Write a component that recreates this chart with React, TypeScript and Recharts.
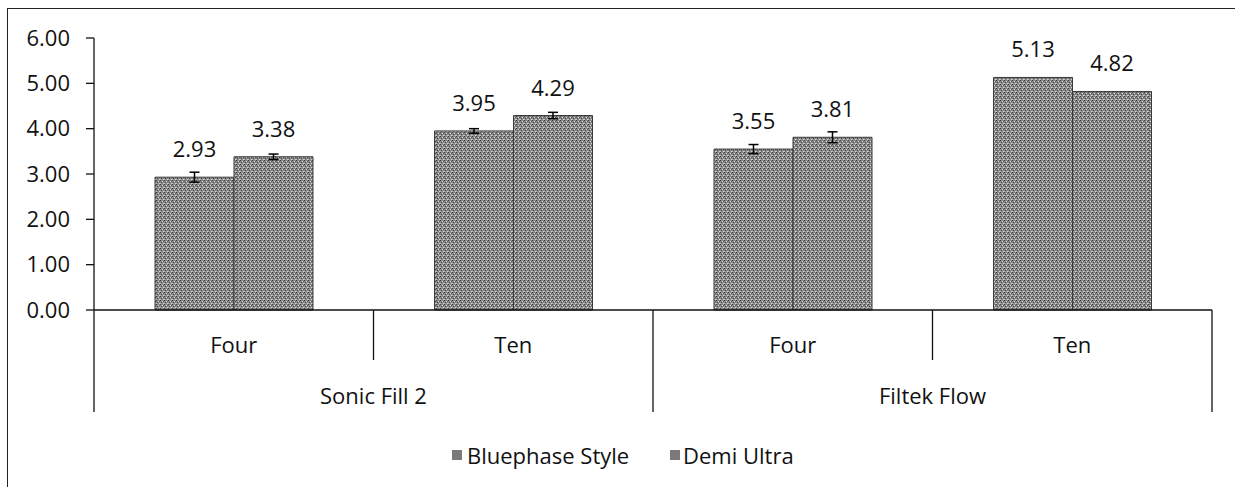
import React from 'react';
import { BarChart, Bar, XAxis, YAxis, ErrorBar, LabelList } from 'recharts';

const subLabels = ['Four', 'Ten', 'Four', 'Ten'];
const groupLabels = ['Sonic Fill 2', 'Filtek Flow'];
const bluephase = [2.93, 3.95, 3.55, 5.13];
const demiUltra = [3.38, 4.29, 3.81, 4.82];
const bluephaseErr = [0.11, 0.05, 0.1, null];
const demiUltraErr = [0.06, 0.07, 0.12, null];
const seriesNames = ['Bluephase Style', 'Demi Ultra'];
const yTicks = [0, 1, 2, 3, 4, 5, 6];

const data = subLabels.map((s, i) => ({
  sub: s,
  group: groupLabels[Math.floor(i / 2)],
  b: bluephase[i],
  d: demiUltra[i],
  be: bluephaseErr[i],
  de: demiUltraErr[i],
}));

const FONT = '"Open Sans", sans-serif';
const FS = 22;
const TXT = '#111';

const XTick = (props: any) => {
  const { x, y, payload, index } = props;
  const off = payload && payload.offset ? payload.offset : 139.75;
  const isFirstOfGroup = index % 2 === 0;
  return (
    <g>
      <text x={x} y={y + 43} textAnchor="middle" fontFamily={FONT} fontSize={FS} fill={TXT}>
        {payload.value}
      </text>
      <line x1={x - off} y1={y} x2={x - off} y2={y + (isFirstOfGroup ? 102 : 50)} stroke="#111" strokeWidth={1.3} />
      {isFirstOfGroup && (
        <text x={x + off} y={y + 94} textAnchor="middle" fontFamily={FONT} fontSize={FS} fill={TXT}>
          {groupLabels[index / 2]}
        </text>
      )}
      {index === subLabels.length - 1 && (
        <line x1={x + off} y1={y} x2={x + off} y2={y + 102} stroke="#111" strokeWidth={1.3} />
      )}
    </g>
  );
};

const ValueLabel = (props: any) => {
  const { x, y, width, value } = props;
  return (
    <text x={x + width / 2} y={y - 20} textAnchor="middle" fontFamily={FONT} fontSize={FS} fill={TXT}>
      {Number(value).toFixed(2)}
    </text>
  );
};

export default function App() {
  return (
    <div style={{ position: 'absolute', left: 0, top: 0, width: 1235, height: 487, background: '#fff', overflow: 'hidden' }}>
      <div style={{ position: 'absolute', left: 7, top: 8, width: 1300, height: 600, borderLeft: '1.5px solid #222', borderTop: '1.5px solid #222' }} />
      <div style={{ position: 'absolute', left: 0, top: 0 }}>
        <BarChart width={1235} height={487} data={data} margin={{ top: 38, right: 23, left: 0, bottom: 75 }} barGap={0} barSize={79}>
          <defs>
            <pattern id="tex" width="4" height="4" patternUnits="userSpaceOnUse">
              <rect width="4" height="4" fill="#878787" />
              <rect x="0" y="0" width="1" height="1" fill="#3c3c3c" />
              <rect x="2" y="1" width="1" height="1" fill="#dedede" />
              <rect x="1" y="2" width="1" height="1" fill="#4a4a4a" />
              <rect x="3" y="3" width="1" height="1" fill="#d2d2d2" />
              <rect x="3" y="1" width="1" height="1" fill="#5a5a5a" />
              <rect x="0" y="3" width="1" height="1" fill="#bdbdbd" />
            </pattern>
          </defs>
          <XAxis
            dataKey="sub"
            height={102}
            tickLine={false}
            tickSize={0}
            tickMargin={0}
            interval={0}
            axisLine={{ stroke: '#111', strokeWidth: 1.3 }}
            tick={<XTick />}
          />
          <YAxis
            width={94}
            domain={[0, 6]}
            ticks={yTicks}
            tickFormatter={(v: number) => v.toFixed(2)}
            tickSize={8}
            tickMargin={16}
            axisLine={{ stroke: '#111', strokeWidth: 1.3 }}
            tickLine={{ stroke: '#111', strokeWidth: 1.3 }}
            tick={{ fontFamily: FONT, fontSize: FS, fill: TXT }}
          />
          <Bar dataKey="b" name={seriesNames[0]} fill="url(#tex)" stroke="#3a3a3a" strokeWidth={1} isAnimationActive={false}>
            <ErrorBar dataKey="be" width={5} stroke="#000" strokeWidth={1.5} direction="y" />
            <LabelList dataKey="b" content={<ValueLabel />} />
          </Bar>
          <Bar dataKey="d" name={seriesNames[1]} fill="url(#tex)" stroke="#3a3a3a" strokeWidth={1} isAnimationActive={false}>
            <ErrorBar dataKey="de" width={5} stroke="#000" strokeWidth={1.5} direction="y" />
            <LabelList dataKey="d" content={<ValueLabel />} />
          </Bar>
        </BarChart>
      </div>
      <div style={{ position: 'absolute', left: 452, top: 440, height: 30, fontFamily: FONT, fontSize: FS, color: TXT, whiteSpace: 'nowrap' }}>
        {seriesNames.map((n, i) => (
          <div key={n} style={{ position: 'absolute', left: i === 0 ? 0 : 218, top: 0, display: 'flex', alignItems: 'center', height: 30 }}>
            <svg width={10} height={10} style={{ marginRight: i === 0 ? 5 : 3 }}>
              <rect width={10} height={10} fill="#7a7a7a" />
            </svg>
            <span>{n}</span>
          </div>
        ))}
      </div>
    </div>
  );
}
